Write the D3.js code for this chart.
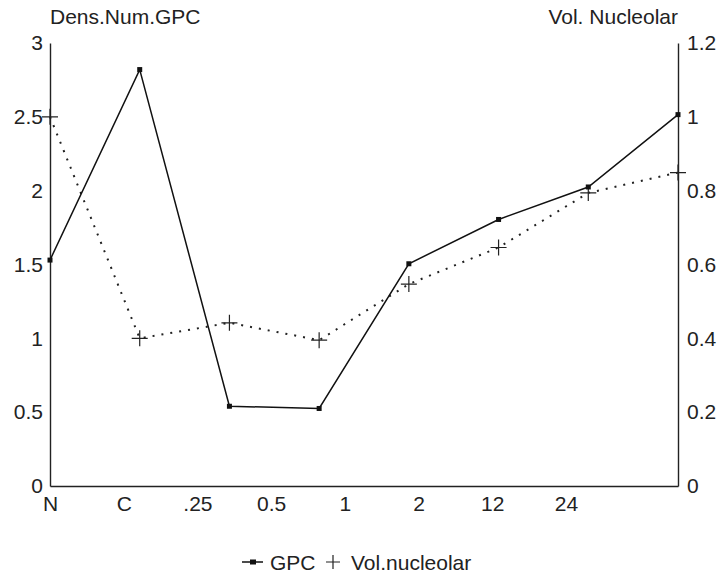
<!DOCTYPE html>
<html><head><meta charset="utf-8">
<script src="https://cdn.jsdelivr.net/npm/d3@7/dist/d3.min.js"></script>
<style>
body{margin:0;background:#fff;}
text{font-family:"Liberation Sans",Arial,sans-serif;fill:#222;}
</style></head>
<body><svg id="c" width="720" height="575"></svg>
<script>
const xLabels = ["N","C",".25","0.5","1","2","12","24"];
const gpc = [1.53, 2.82, 0.54, 0.525, 1.505, 1.805, 2.025, 2.515];
const volNucleolar = [1.0, 0.40, 0.442, 0.395, 0.547, 0.646, 0.794, 0.849];
const leftTicks = [0, 0.5, 1, 1.5, 2, 2.5, 3];
const rightTicks = [0, 0.2, 0.4, 0.6, 0.8, 1, 1.2];
const leftTitle = "Dens.Num.GPC";
const rightTitle = "Vol. Nucleolar";
const legendNames = ["GPC", "Vol.nucleolar"];

const svg = d3.select("#c");
const fs = 21;
const L = 50, R = 678, T = 43, B = 486;
const idx = d3.range(gpc.length);
const x = d3.scalePoint().domain(idx).range([L, R]);
const xl = d3.scalePoint().domain(xLabels).range([L, 566]);
const yL = d3.scaleLinear().domain([0, 3]).range([B, T]);
const yR = d3.scaleLinear().domain([0, 1.2]).range([B, T]);

function styleAxis(g){
  g.selectAll("path.domain").attr("stroke","#222").attr("stroke-width",1.4);
  g.selectAll("text").style("font-size", fs+"px").attr("fill","#222");
}
svg.append("g").attr("transform",`translate(${L},0)`)
  .call(d3.axisLeft(yL).tickValues(leftTicks).tickSize(0).tickPadding(7).tickFormat(d3.format("")))
  .call(styleAxis);
svg.append("g").attr("transform",`translate(${R},0)`)
  .call(d3.axisRight(yR).tickValues(rightTicks).tickSize(0).tickPadding(9).tickFormat(d3.format("")))
  .call(styleAxis);
svg.append("g").attr("transform",`translate(0,${B})`)
  .call(d3.axisBottom(x).tickValues([]).tickSizeOuter(0))
  .call(styleAxis);
svg.append("g").attr("transform",`translate(0,${B})`)
  .call(d3.axisBottom(xl).tickSize(0).tickPadding(10))
  .call(g=>g.select("path.domain").remove())
  .call(styleAxis);

svg.append("text").attr("x",L).attr("y",24).style("font-size",fs+"px").text(leftTitle);
svg.append("text").attr("x",R).attr("y",24).attr("text-anchor","end").style("font-size",fs+"px").text(rightTitle);

// Vol nucleolar dotted
svg.append("path").datum(idx)
  .attr("d", d3.line().x(i=>x(i)).y(i=>yR(volNucleolar[i])))
  .attr("fill","none").attr("stroke","#222").attr("stroke-width",2)
  .attr("stroke-dasharray","2 7");
const ps = 8;
svg.append("g").selectAll("path").data(idx).join("path")
  .attr("d", i=>`M${x(i)-ps},${yR(volNucleolar[i])}h${2*ps}M${x(i)},${yR(volNucleolar[i])-ps}v${2*ps}`)
  .attr("stroke","#222").attr("stroke-width",1.2).attr("fill","none");

// GPC solid
svg.append("path").datum(idx)
  .attr("d", d3.line().x(i=>x(i)).y(i=>yL(gpc[i])))
  .attr("fill","none").attr("stroke","#111").attr("stroke-width",1.5);
svg.append("g").selectAll("rect").data(idx).join("rect")
  .attr("x", i=>x(i)-2.5).attr("y", i=>yL(gpc[i])-2.5)
  .attr("width",5).attr("height",5).attr("fill","#111");

// Legend
const ly = 562;
const lg = svg.append("g");
lg.append("line").attr("x1",242).attr("x2",263).attr("y1",ly).attr("y2",ly).attr("stroke","#111").attr("stroke-width",1.5);
lg.append("rect").attr("x",250).attr("y",ly-2.5).attr("width",6).attr("height",5).attr("fill","#111");
lg.append("text").attr("x",270).attr("y",ly).attr("dy","0.36em").style("font-size",fs+"px").text(legendNames[0]);
lg.append("path").attr("d",`M${326},${ly}h14M${333},${ly-7}v14`).attr("stroke","#222").attr("stroke-width",1.2);
lg.append("text").attr("x",351).attr("y",ly).attr("dy","0.36em").style("font-size",fs+"px").text(legendNames[1]);
</script></body></html>
